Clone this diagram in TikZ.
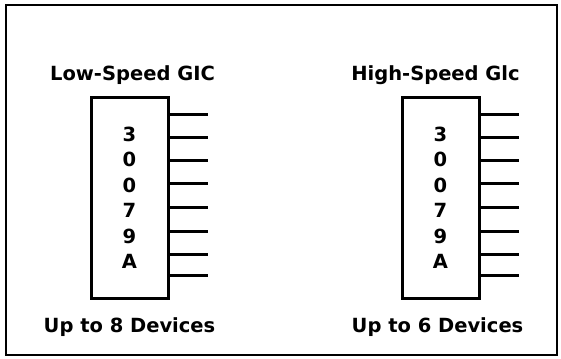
\documentclass[tikz,border=0pt]{standalone}
\usepackage{fontspec}
\newfontfamily\plotfont{DejaVu Sans}
\usepackage{tikz}
\usetikzlibrary{positioning}

\begin{document}
\begin{tikzpicture}[
  x=1pt, y=-1pt,
  font=\plotfont\bfseries\fontsize{19.5}{25.5}\selectfont,
  chip/.style={rectangle, draw, line width=3pt, minimum width=77pt, minimum height=200pt, align=center, inner sep=0pt},
  pin/.style={line width=3pt},
  lbl/.style={inner sep=0pt}
]
  \useasboundingbox (0,0) rectangle (561,358);
  \draw[line width=2pt] (6,5) rectangle (557,355);

  % the two interface cards
  \node[chip] (lo) at (129.5,198) {3\\0\\0\\7\\9\\A};
  \node[chip, right=231pt of lo] (hi) {3\\0\\0\\7\\9\\A};

  \node[lbl, above=12pt of lo, xshift=3pt] (lotitle) {Low-Speed GIC};
  \node[lbl, above=12pt of hi, xshift=-5pt] (hititle) {High-Speed Glc};
  \node[lbl, below=18pt of lo] (lonote) {Up to 8 Devices};
  \node[lbl, below=18pt of hi, xshift=-3pt] (hinote) {Up to 6 Devices};

  % device lines
  \foreach \c in {lo,hi}
    \foreach \d [count=\i] in {18,41,64,87,111,135,158,179} {
      \coordinate (\c-p\i) at ([xshift=38pt,yshift=-\d pt]\c.north east);
      \draw[pin] (\c.east |- \c-p\i) -- (\c-p\i);
    }
\end{tikzpicture}
\end{document}
